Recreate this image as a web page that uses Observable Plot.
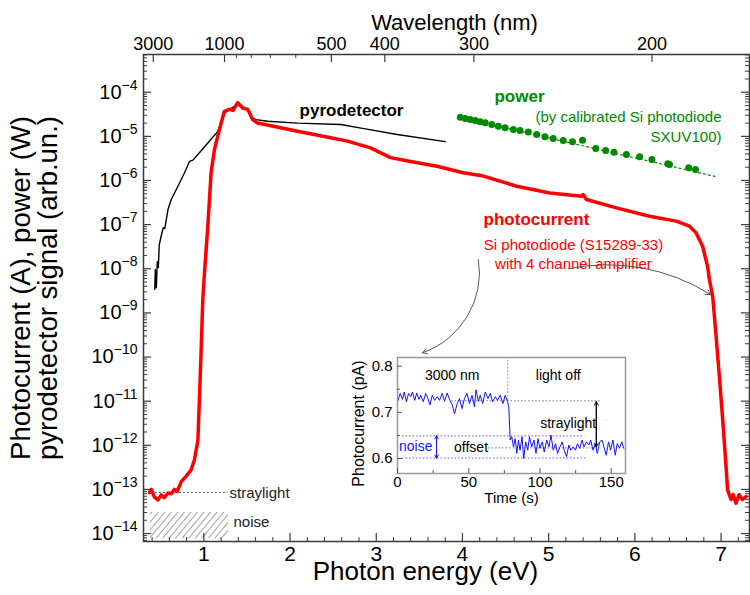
<!DOCTYPE html>
<html><head><meta charset="utf-8">
<script src="https://cdn.jsdelivr.net/npm/d3@7"></script>
<script src="https://cdn.jsdelivr.net/npm/@observablehq/plot@0.6"></script>
<style>
body{margin:0;background:#fff;}
#wrap{position:relative;width:750px;height:595px;overflow:hidden;background:#fff;}
#inset{position:absolute;left:340px;top:340px;}
</style></head><body><div id="wrap"><div id="main"></div><div id="inset"></div></div>
<script>
// ---------- data (photon energy in eV, signal in A / W / arb.un.) ----------
const photocurrent = [[0.368,8.5e-14],[0.391,1.0e-13],[0.425,6.8e-14],[0.468,5.8e-14],[0.506,7.5e-14],[0.541,6.5e-14],[0.584,8.3e-14],[0.622,8e-14],[0.657,1e-13],[0.691,9e-14],[0.738,1.5e-13],[0.796,2e-13],[0.853,2.8e-13],[0.891,4.7e-13],[0.931,1.3e-12],[0.949,1.1e-11],[0.969,1.5e-10],[0.988,2e-9],[1.007,8e-9],[1.046,9e-8],[1.084,1.5e-6],[1.123,5e-6],[1.180,1.4e-5],[1.238,3.7e-5],[1.296,4.1e-5],[1.339,3.9e-5],[1.393,5.8e-5],[1.451,4.4e-5],[1.509,4.1e-5],[1.566,2.4e-5],[1.624,2.0e-5],[2.087,1.3e-5],[2.472,9.3e-6],[2.665,7.8e-6],[2.934,5.5e-6],[3.165,3.3e-6],[3.397,2.7e-6],[3.705,2.1e-6],[4.009,1.5e-6],[4.244,1.26e-6],[4.630,7.4e-7],[5.015,5.2e-7],[5.382,4.4e-7],[5.400,4.8e-7],[5.439,3.7e-7],[5.786,2.4e-7],[6.171,1.55e-7],[6.480,1.2e-7],[6.634,9.2e-8],[6.711,6.5e-8],[6.787,3.2e-8],[6.845,1.1e-8],[6.865,5.7e-9],[6.903,2.4e-9],[6.942,3e-10],[6.980,3.7e-11],[7.019,3.8e-12],[7.058,3.3e-13],[7.076,9.8e-14],[7.116,5.9e-14],[7.142,7.6e-14],[7.173,4.9e-14],[7.210,7.6e-14],[7.246,5.9e-14],[7.289,6.9e-14]];
const pyrodetector = [[0.431,3.4e-9],[0.437,9.6e-9],[0.449,3.7e-9],[0.460,1.45e-8],[0.472,1.07e-8],[0.483,3.5e-8],[0.506,5.6e-8],[0.529,8.5e-8],[0.547,8.1e-8],[0.584,2.2e-7],[0.622,3.7e-7],[0.699,7.4e-7],[0.776,1.5e-6],[0.834,2.7e-6],[0.873,2.9e-6],[0.931,3.9e-6],[1.046,7.1e-6],[1.162,1.3e-5],[1.200,2.0e-5],[1.238,3.4e-5],[1.296,4.1e-5],[1.354,4.8e-5],[1.393,5.8e-5],[1.451,4.4e-5],[1.509,4.1e-5],[1.566,2.6e-5],[1.605,2.4e-5],[1.740,2.2e-5],[2.087,2.0e-5],[2.587,1.86e-5],[2.857,1.5e-5],[3.243,1.1e-5],[3.801,7.6e-6]];
const power = [[3.975,2.72e-5],[4.032,2.55e-5],[4.090,2.42e-5],[4.148,2.30e-5],[4.206,2.14e-5],[4.264,2.03e-5],[4.341,1.86e-5],[4.417,1.70e-5],[4.495,1.57e-5],[4.591,1.43e-5],[4.668,1.36e-5],[4.764,1.25e-5],[4.861,1.10e-5],[4.957,9.8e-6],[5.053,8.95e-6],[5.169,8.07e-6],[5.277,7.55e-6],[5.393,8.2e-6],[5.547,5.3e-6],[5.662,4.79e-6],[5.758,4.38e-6],[5.902,3.89e-6],[6.055,3.45e-6],[6.198,2.99e-6],[6.383,2.39e-6],[6.402,2.31e-6],[6.625,1.94e-6],[6.703,1.77e-6]];
const powerFit = [[3.97,2.7e-5],[6.96,1.2e-6]];
const straylightLevel = [{e1:0.39, e2:1.28, v:8.5e-14}];
const noiseBand = [{e1:0.381, e2:1.286, v1:7.6e-15, v2:3.0e-14}];

// ticks
const energyMajor = [1,2,3,4,5,6,7];
const energyMinor = d3.range(0.4, 7.3, 0.2).filter(d => Math.abs(d - Math.round(d)) > 0.05);
const wavelengthMajor = [3000,1000,500,400,300,200];
const wavelengthMinor = [900,800,700,600];
const decades = d3.range(-14, -3).map(k => Math.pow(10, k));
const minorDecades = d3.range(-15, -3).flatMap(k => d3.range(2, 10).map(m => m * Math.pow(10, k)))
  .filter(v => v > Math.pow(10,-14.18) && v < Math.pow(10,-3.145));

// inset: photocurrent (pA) vs time (s)
const insetTrace = [[0,0.723],[1.9,0.741],[3.5,0.728],[4.7,0.744],[6.3,0.723],[7.7,0.741],[9.3,0.734],[10.5,0.744],[12.1,0.726],[13.5,0.742],[15.1,0.728],[16.3,0.737],[18.1,0.723],[19.8,0.741],[21.4,0.730],[22.8,0.716],[24.4,0.737],[26.0,0.726],[27.9,0.734],[29.5,0.726],[31.4,0.741],[33.0,0.724],[34.9,0.742],[36.7,0.726],[38.4,0.716],[40.0,0.697],[41.9,0.719],[43.5,0.730],[45.3,0.708],[47.0,0.730],[48.8,0.741],[50.5,0.719],[52.3,0.737],[54.0,0.712],[55.1,0.749],[56.7,0.724],[58.1,0.737],[59.8,0.719],[61.6,0.744],[63.5,0.730],[65.1,0.741],[66.7,0.723],[68.6,0.734],[70.2,0.726],[72.1,0.737],[74.0,0.719],[75.6,0.737],[77.2,0.723],[78.1,0.712],[79.1,0.640],[80.2,0.647],[81.4,0.625],[82.6,0.643],[83.7,0.611],[84.9,0.640],[86.0,0.618],[87.4,0.647],[88.6,0.600],[90.0,0.636],[91.4,0.618],[92.6,0.647],[94.2,0.625],[95.8,0.640],[97.2,0.611],[98.6,0.643],[100,0.622],[101.6,0.636],[103.0,0.614],[104.7,0.640],[106.3,0.625],[107.7,0.651],[109.3,0.618],[110.9,0.632],[112.3,0.611],[114.0,0.625],[115.6,0.636],[117.0,0.618],[118.6,0.604],[120.2,0.629],[121.6,0.618],[123.3,0.625],[124.9,0.618],[126.3,0.632],[127.9,0.622],[129.5,0.640],[130.9,0.625],[132.6,0.636],[134.2,0.629],[135.6,0.640],[137.2,0.618],[138.8,0.632],[140.2,0.611],[141.9,0.636],[143.5,0.640],[144.9,0.625],[146.5,0.607],[148.1,0.636],[149.5,0.618],[151.2,0.640],[152.8,0.607],[154.2,0.632],[155.8,0.622],[157.4,0.636],[158.8,0.622]];
const insetTimeTicks = [0,50,100,150];
const insetTimeMinor = [25,75,125];
const insetCurrentTicks = [0.6,0.7,0.8];
const insetCurrentMinor = [0.65,0.75];

// ---------- drawing ----------
const FONT = '"Liberation Sans", Arial, sans-serif';
const HC = 1239.84;
const W = 750, H = 595, ML = 143, MR = 1, MT = 54, MB = 54;
const plotH = H - MT - MB, plotW = W - ML - MR;
const RED = "#ff0000", GREEN = "#008a00", AX = "#3a3a3a";

const main = Plot.plot({
  width: W, height: H, marginLeft: ML, marginRight: MR, marginTop: MT, marginBottom: MB,
  style: {fontFamily: FONT, background: "white", overflow: "visible", color: "#000"},
  x: {domain: [0.3, 7.33]},
  y: {type: "log", domain: [Math.pow(10,-14.18), Math.pow(10,-3.145)]},
  marks: [
    Plot.rect(noiseBand, {x1: "e1", x2: "e2", y1: "v1", y2: "v2", fill: "url(#hatch)"}),
    Plot.ruleY(straylightLevel, {y: "v", x1: "e1", x2: "e2", stroke: "#555", strokeWidth: 1, strokeDasharray: "2,2"}),
    Plot.line(powerFit, {x: d => d[0], y: d => d[1], stroke: GREEN, strokeWidth: 1.2, strokeDasharray: "2,3"}),
    Plot.line(pyrodetector, {x: d => d[0], y: d => d[1], stroke: "#000", strokeWidth: 1.4}),
    Plot.line(photocurrent, {x: d => d[0], y: d => d[1], stroke: RED, strokeWidth: 3.5, strokeLinejoin: "round"}),
    Plot.dot(power, {x: d => d[0], y: d => d[1], r: 3.5, fill: GREEN, stroke: "none"}),
    // frame + inward ticks
    Plot.frame({stroke: AX, strokeWidth: 1.5}),
    Plot.ruleX(energyMajor, {stroke: AX, strokeWidth: 1.2, insetTop: plotH - 8}),
    Plot.ruleX(energyMinor, {stroke: AX, strokeWidth: 1, insetTop: plotH - 4}),
    Plot.ruleX(wavelengthMajor, {x: l => HC / l, stroke: AX, strokeWidth: 1.2, insetBottom: plotH - 8}),
    Plot.ruleX(wavelengthMinor, {x: l => HC / l, stroke: AX, strokeWidth: 1, insetBottom: plotH - 4}),
    Plot.ruleY(decades, {stroke: AX, strokeWidth: 1.2, insetRight: plotW - 8}),
    Plot.ruleY(minorDecades, {stroke: AX, strokeWidth: 1, insetRight: plotW - 4}),
    Plot.ruleY(decades, {stroke: AX, strokeWidth: 1.2, insetLeft: plotW - 8}),
    Plot.ruleY(minorDecades, {stroke: AX, strokeWidth: 1, insetLeft: plotW - 4}),
    // axes labels
    Plot.axisX({anchor: "bottom", ticks: energyMajor, tickSize: 0, tickPadding: 5, fontSize: 21, label: null, tickFormat: d => String(d)}),
    Plot.axisX({anchor: "top", ticks: wavelengthMajor.map(l => HC / l), tickSize: 0, tickPadding: 5, fontSize: 18, label: null, tickFormat: d => String(Math.round(HC / d))}),
    Plot.axisY({anchor: "left", ticks: decades, tickSize: 0, tickPadding: 6, fontSize: 20, label: null, tickFormat: d => String(Math.round(Math.log10(d)))}),
    Plot.text(["Photon energy (eV)"], {frameAnchor: "bottom", dy: 38, dx: -21, fontSize: 26, textAnchor: "middle", text: d => d}),
    Plot.text(["Wavelength (nm)"], {frameAnchor: "top", dy: -40, dx: 8, fontSize: 22, textAnchor: "middle", text: d => d}),
    Plot.text(["Photocurrent (A), power (W)"], {frameAnchor: "left", dx: -122, dy: -10, rotate: -90, fontSize: 27.5, textAnchor: "middle", text: d => d}),
    Plot.text(["pyrodetector signal (arb.un.)"], {frameAnchor: "left", dx: -95, dy: -10, rotate: -90, fontSize: 27.5, textAnchor: "middle", text: d => d}),
    // annotations
    Plot.text(["pyrodetector"], {x: 2.713, y: 3.85e-5, text: d => d, fontSize: 17, fontWeight: "bold", fill: "#000"}),
    Plot.text(["power"], {x: 4.662, y: 8.0e-5, text: d => d, fontSize: 17, fontWeight: "bold", fill: GREEN}),
    Plot.text(["(by calibrated Si photodiode"], {x: 7.005, y: 2.67e-5, text: d => d, fontSize: 15, fill: GREEN, textAnchor: "end"}),
    Plot.text(["SXUV100)"], {x: 7.005, y: 9.4e-6, text: d => d, fontSize: 15, fill: GREEN, textAnchor: "end"}),
    Plot.text(["photocurrent"], {x: 4.859, y: 1.3e-7, text: d => d, fontSize: 17, fontWeight: "bold", fill: RED}),
    Plot.text(["Si photodiode (S15289-33)"], {x: 5.288, y: 3.5e-8, text: d => d, fontSize: 15, fill: RED}),
    Plot.text(["with 4 channel amplifier"], {x: 5.288, y: 1.3e-8, text: d => d, fontSize: 15, fill: RED}),
    Plot.text(["straylight"], {x: 1.298, y: 8.4e-14, text: d => d, fontSize: 15, fill: "#222", textAnchor: "start"}),
    Plot.text(["noise"], {x: 1.344, y: 1.84e-14, text: d => d, fontSize: 15, fill: "#222", textAnchor: "start"}),
    Plot.arrow([{e1: 4.186, v1: 1.6e-8, e2: 3.537, v2: 1.25e-10}], {x1: "e1", y1: "v1", x2: "e2", y2: "v2", bend: 40, stroke: "#444", strokeWidth: 0.9, headLength: 9}),
    Plot.arrow([{e1: 5.230, v1: 1.0e-8, e2: 6.878, v2: 2.6e-9}], {x1: "e1", y1: "v1", x2: "e2", y2: "v2", bend: 22, stroke: "#444", strokeWidth: 0.9, headLength: 9})
  ]
});

const NS = "http://www.w3.org/2000/svg";
const defs = document.createElementNS(NS, "defs");
defs.innerHTML = '<pattern id="hatch" patternUnits="userSpaceOnUse" width="5" height="5" patternTransform="rotate(40)"><line x1="0" y1="0" x2="0" y2="5" stroke="#444" stroke-width="1"/></pattern>';
main.insertBefore(defs, main.firstChild);
main.querySelectorAll('g[aria-label="y-axis tick label"] text').forEach(t => {
  const e = t.textContent.replace("-", "\u2212").replace("\u2212\u2212", "\u2212");
  t.textContent = "10";
  const ts = document.createElementNS(NS, "tspan");
  ts.setAttribute("dy", "-9");
  ts.setAttribute("font-size", "14");
  ts.textContent = e;
  t.appendChild(ts);
});
document.getElementById("main").appendChild(main);

// ---------- inset ----------
const IW = 300, IH = 182, IML = 57, IMR = 15, IMT = 17, IMB = 49;
const iH = IH - IMT - IMB, iW = IW - IML - IMR;
const BLUE = "#1414ff", IAX = "#9a9a9a";
const inset = Plot.plot({
  width: IW, height: IH, marginLeft: IML, marginRight: IMR, marginTop: IMT, marginBottom: IMB,
  style: {fontFamily: FONT, background: "transparent", overflow: "visible", color: "#000"},
  x: {domain: [0, 160]},
  y: {domain: [0.5675, 0.8188]},
  marks: [
    Plot.ruleX([77.4], {y1: 0.726, y2: 0.8188, stroke: "#888", strokeDasharray: "1.5,2"}),
    Plot.ruleY([0.725], {x1: 38, x2: 143, stroke: "#777", strokeDasharray: "1.5,2"}),
    Plot.ruleY([0.623], {x1: 64, x2: 140, stroke: "#777", strokeDasharray: "1.5,2"}),
    Plot.ruleY([0.649], {x1: 3.5, x2: 131.4, stroke: BLUE, strokeOpacity: 0.7, strokeDasharray: "1.5,2"}),
    Plot.ruleY([0.601], {x1: 3.5, x2: 132.6, stroke: BLUE, strokeOpacity: 0.7, strokeDasharray: "1.5,2"}),
    Plot.line(insetTrace, {x: d => d[0], y: d => d[1], stroke: BLUE, strokeWidth: 1}),
    Plot.arrow([{t: 139.5, a: 0.625, b: 0.723}], {x1: "t", x2: "t", y1: "a", y2: "b", stroke: "#000", strokeWidth: 1, headLength: 6}),
    Plot.arrow([{t: 139.5, a: 0.723, b: 0.625}], {x1: "t", x2: "t", y1: "a", y2: "b", stroke: "#000", strokeWidth: 1, headLength: 6}),
    Plot.arrow([{t: 27.4, a: 0.601, b: 0.649}], {x1: "t", x2: "t", y1: "a", y2: "b", stroke: BLUE, strokeWidth: 1, headLength: 5}),
    Plot.arrow([{t: 27.4, a: 0.649, b: 0.601}], {x1: "t", x2: "t", y1: "a", y2: "b", stroke: BLUE, strokeWidth: 1, headLength: 5}),
    Plot.text(["3000 nm"], {x: 38.4, y: 0.779, text: d => d, fontSize: 14}),
    Plot.text(["light off"], {x: 112.8, y: 0.779, text: d => d, fontSize: 14}),
    Plot.text(["straylight"], {x: 119.8, y: 0.676, text: d => d, fontSize: 14}),
    Plot.text(["offset"], {x: 51.6, y: 0.623, text: d => d, fontSize: 14}),
    Plot.text(["noise"], {x: 12.8, y: 0.625, text: d => d, fontSize: 14, fill: BLUE}),
    Plot.frame({stroke: IAX, strokeWidth: 1.5}),
    Plot.ruleX(insetTimeTicks, {stroke: "#555", insetTop: iH - 5}),
    Plot.ruleX(insetTimeMinor, {stroke: "#555", insetTop: iH - 3}),
    Plot.ruleY(insetCurrentTicks, {stroke: "#555", insetRight: iW - 5}),
    Plot.ruleY(insetCurrentMinor, {stroke: "#555", insetRight: iW - 3}),
    Plot.axisX({ticks: insetTimeTicks, tickSize: 0, tickPadding: 3, fontSize: 15, label: null, tickFormat: d => String(d)}),
    Plot.axisY({ticks: insetCurrentTicks, tickSize: 0, tickPadding: 5, fontSize: 15, label: null, tickFormat: d3.format(".1f")}),
    Plot.text(["Time (s)"], {frameAnchor: "bottom", dy: 29, fontSize: 15, textAnchor: "middle", text: d => d}),
    Plot.text(["Photocurrent (pA)"], {frameAnchor: "left", dx: -39, dy: 8, rotate: -90, fontSize: 16, textAnchor: "middle", text: d => d})
  ]
});
document.getElementById("inset").appendChild(inset);
</script>
</body></html>
